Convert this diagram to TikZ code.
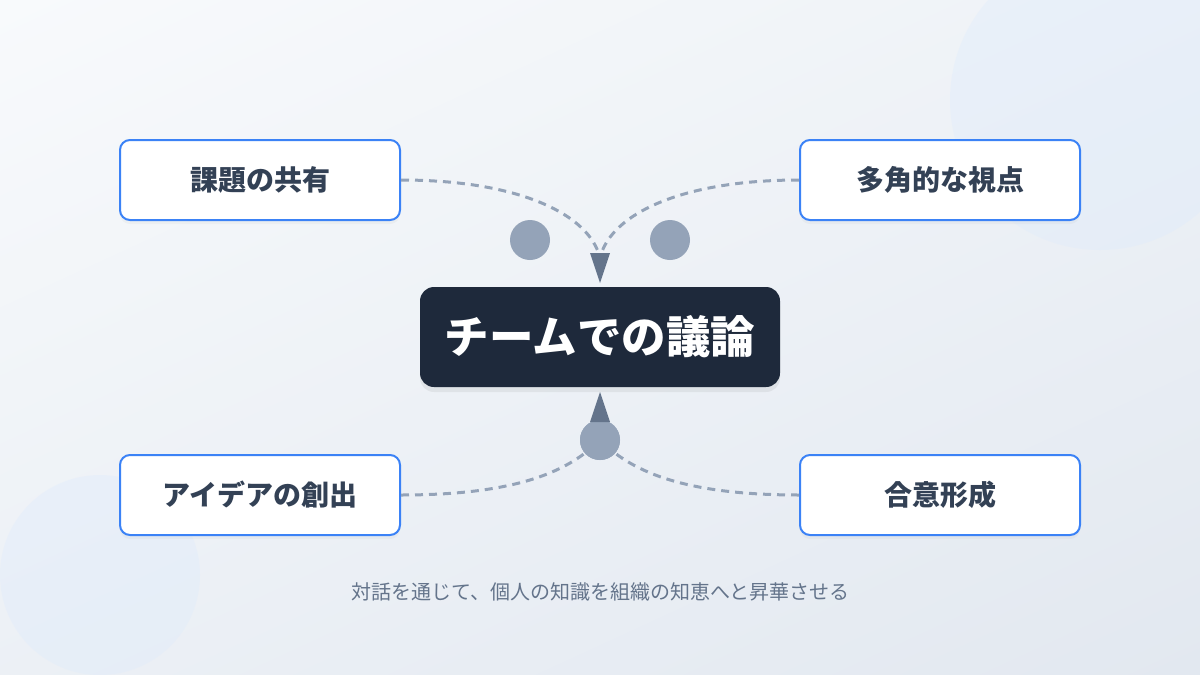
\documentclass[tikz,border=0pt]{standalone}
\usepackage{fontspec}
\setmainfont{Noto Sans CJK JP}
\usetikzlibrary{shadows,shadings}
\definecolor{bgtop}{HTML}{F8FAFC}
\definecolor{bgbot}{HTML}{E2E8F0}
\definecolor{blob}{HTML}{DBEAFE}
\definecolor{edge}{HTML}{3B82F6}
\definecolor{ink}{HTML}{334155}
\definecolor{core}{HTML}{1E293B}
\definecolor{dash}{HTML}{94A3B8}
\definecolor{tipgray}{HTML}{64748B}
\tikzset{
  topicbox/.style={draw=edge, line width=2pt, fill=white, rounded corners=10pt,
    minimum width=280pt, minimum height=80pt, text=ink,
    font=\fontsize{28}{32}\selectfont\bfseries,
    drop shadow={opacity=0.06, shadow xshift=0pt, shadow yshift=-4pt}},
  corebox/.style={fill=core, rounded corners=14pt, minimum width=360pt,
    minimum height=100pt, text=white, font=\fontsize{44.5}{50}\selectfont\bfseries,
    drop shadow={opacity=0.12, shadow xshift=0pt, shadow yshift=-5pt}},
  flow/.style={draw=dash, line width=3pt, dash pattern=on 8pt off 6pt},
  dot/.style={circle, fill=dash, minimum size=40pt, inner sep=0pt}
}
\begin{document}
\begin{tikzpicture}[x=1pt,y=-1pt]
	\useasboundingbox (0,0) rectangle (1200,675);
	\shade[upper left=bgtop, upper right=bgbot!45!bgtop, lower left=bgbot!55!bgtop, lower right=bgbot] (0,0) rectangle (1200,675);
	
	% background blobs
	\fill[blob, opacity=0.3] (1100,100) circle (150);
	\fill[blob, opacity=0.3] (100,575) circle (100);
	
	% topic boxes
	\node[topicbox] (issue) at (260,180) {課題の共有};
	\node[topicbox] (view) at (940,180) {多角的な視点};
	\node[topicbox] (idea) at (260,495) {アイデアの創出};
	\node[topicbox] (agree) at (940,495) {合意形成};
	
	\node[corebox] (talk) at (600,337) {チームでの議論};
	
	\coordinate (meet) at (600,258);
	\node[dot] (hub) at (600,440) {};
	
	% dashed connectors
	\draw[flow] (issue.east) .. controls (520,180) and (590,215) .. (meet);
	\draw[flow] (view.west) .. controls (680,180) and (610,215) .. (meet);
	\draw[flow] (idea.east) .. controls (520,495) and (570,470) .. (hub.center);
	\draw[flow] (agree.west) .. controls (680,495) and (630,470) .. (hub.center);
	
	\node[dot] (leftdot) at (530,240) {};
	\node[dot] (rightdot) at (670,240) {};
	\node[dot] at (hub) {};
	
	% arrow heads
	\fill[tipgray] (590,253) -- (610,253) -- (600,283) -- cycle;
	\fill[tipgray] (590,422) -- (610,422) -- (600,392) -- cycle;
	
	\node[text=tipgray, font=\fontsize{20}{24}\selectfont] (note) at (600,592) {対話を通じて、個人の知識を組織の知恵へと昇華させる};
\end{tikzpicture}
\end{document}
